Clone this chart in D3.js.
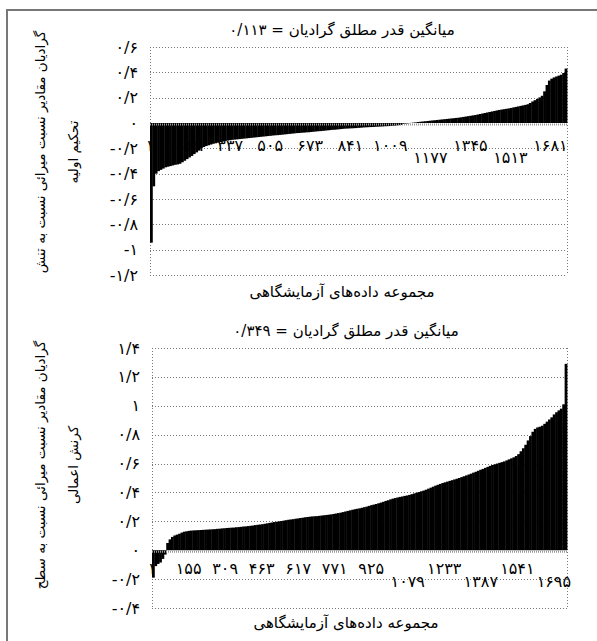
<!DOCTYPE html>
<html>
<head>
<meta charset="utf-8">
<script src="https://cdn.jsdelivr.net/npm/d3@7"></script>
<style>
  body { margin: 0; background: #fff; }
  text { font-family: "DejaVu Sans", sans-serif; fill: #000; }
</style>
</head>
<body>
<div id="chart"></div>
<script>
// data: sorted gradients, each bar = 10 consecutive samples
var count = 1750,
    groupSize = 10;

var means = [0.113, 0.349];

var values1 = [
  -0.945, -0.5, -0.40, -0.38, -0.37, -0.36, -0.35, -0.345, -0.34, -0.335,
  -0.33, -0.327, -0.322, -0.31, -0.298, -0.285, -0.272, -0.26, -0.245, -0.232,
  -0.218, -0.2, -0.19, -0.182, -0.176, -0.17, -0.164, -0.16, -0.155, -0.15,
  -0.146, -0.142, -0.139, -0.136, -0.133, -0.131, -0.129, -0.127, -0.125, -0.123,
  -0.121, -0.119, -0.117, -0.115, -0.113, -0.111, -0.109, -0.107, -0.105, -0.103,
  -0.101, -0.099, -0.097, -0.096, -0.094, -0.092, -0.09, -0.088, -0.086, -0.084,
  -0.082, -0.08, -0.079, -0.077, -0.076, -0.074, -0.073, -0.071, -0.069, -0.067,
  -0.065, -0.064, -0.062, -0.06, -0.058, -0.056, -0.054, -0.053, -0.051, -0.049,
  -0.047, -0.045, -0.044, -0.043, -0.042, -0.041, -0.04, -0.038, -0.037, -0.035,
  -0.034, -0.033, -0.032, -0.031, -0.03, -0.029, -0.028, -0.027, -0.026, -0.025,
  -0.024, -0.022, -0.021, -0.019, -0.017, -0.015, -0.006, -0.004, -0.002, 0.001,
  0.003, 0.005, 0.008, 0.01, 0.012, 0.014, 0.016, 0.018, 0.02, 0.022,
  0.024, 0.026, 0.028, 0.03, 0.032, 0.034, 0.036, 0.038, 0.04, 0.042,
  0.045, 0.048, 0.051, 0.054, 0.057, 0.06, 0.063, 0.067, 0.071, 0.075,
  0.079, 0.083, 0.087, 0.091, 0.095, 0.099, 0.103, 0.106, 0.109, 0.112,
  0.115, 0.119, 0.123, 0.127, 0.131, 0.135, 0.139, 0.143, 0.148, 0.158,
  0.17, 0.18, 0.19, 0.202, 0.215, 0.25, 0.3, 0.335, 0.35, 0.36,
  0.367, 0.374, 0.381, 0.395, 0.43
];

var values2 = [
  -0.19, -0.11, -0.095, -0.085, -0.06, -0.03, 0.05, 0.075, 0.092, 0.102,
  0.108, 0.114, 0.122, 0.128, 0.131, 0.134, 0.136, 0.137, 0.138, 0.139,
  0.14, 0.141, 0.142, 0.143, 0.144, 0.145, 0.146, 0.148, 0.149, 0.151,
  0.152, 0.154, 0.155, 0.156, 0.157, 0.159, 0.16, 0.162, 0.164, 0.165,
  0.167, 0.169, 0.171, 0.174, 0.176, 0.178, 0.18, 0.183, 0.186, 0.189,
  0.192, 0.195, 0.197, 0.2, 0.202, 0.205, 0.208, 0.211, 0.213, 0.215,
  0.218, 0.22, 0.223, 0.225, 0.228, 0.23, 0.232, 0.234, 0.235, 0.236,
  0.238, 0.24, 0.242, 0.244, 0.246, 0.248, 0.251, 0.254, 0.257, 0.26,
  0.264, 0.268, 0.272, 0.276, 0.28, 0.284, 0.287, 0.29, 0.294, 0.298,
  0.302, 0.307, 0.312, 0.316, 0.32, 0.325, 0.33, 0.335, 0.341, 0.346,
  0.352, 0.357, 0.361, 0.365, 0.369, 0.372, 0.376, 0.379, 0.383, 0.388,
  0.393, 0.398, 0.403, 0.408, 0.413, 0.419, 0.426, 0.433, 0.44, 0.447,
  0.453, 0.459, 0.465, 0.47, 0.475, 0.48, 0.485, 0.49, 0.495, 0.5,
  0.506, 0.512, 0.518, 0.524, 0.53, 0.537, 0.543, 0.55, 0.557, 0.563,
  0.57, 0.577, 0.584, 0.59, 0.595, 0.6, 0.605, 0.61, 0.615, 0.622,
  0.629, 0.636, 0.643, 0.652, 0.665, 0.685, 0.706, 0.73, 0.76, 0.79,
  0.82, 0.84, 0.85, 0.855, 0.862, 0.875, 0.89, 0.905, 0.92, 0.94,
  0.955, 0.968, 0.98, 1.01, 1.29
];

var yTicks1 = [0.6, 0.4, 0.2, 0, -0.2, -0.4, -0.6, -0.8, -1, -1.2],
    yTicks2 = [1.4, 1.2, 1, 0.8, 0.6, 0.4, 0.2, 0, -0.2, -0.4];

var xTicks1 = [1, 169, 337, 505, 673, 841, 1009, 1177, 1345, 1513, 1681],
    xTicks2 = [1, 155, 309, 463, 617, 771, 925, 1079, 1233, 1387, 1541, 1695];

var xTitle = "مجموعه داده‌های آزمایشگاهی",
    titlePrefix = "میانگین قدر مطلق گرادیان = ",
    yTitles1 = ["گرادیان مقادیر نسبت میرائی نسبت به تنش", "تحکیم اولیه"],
    yTitles2 = ["گرادیان مقادیر نسبت میرائی نسبت به سطح", "کرنش اعمالی"];

var width = 597, height = 641;

var svg = d3.select("#chart").append("svg")
    .attr("width", width)
    .attr("height", height);

svg.append("rect").attr("width", width).attr("height", height).attr("fill", "#fff");

// outer frame (only top and left edges are visible)
svg.append("path")
    .attr("d", "M7,641V10H597")
    .attr("fill", "none")
    .attr("stroke", "#777")
    .attr("stroke-width", 2);

// persian digits, slash as decimal mark like the original
function fa(s) {
    return String(s).replace(/[0-9]/g, function(d) {return "۰۱۲۳۴۵۶۷۸۹"[+d]}).replace(/\./g, "/");
}

function drawChart(opt) {
    var g = svg.append("g");
    var left = opt.left, right = opt.right;

    var y = d3.scaleLinear()
        .domain(d3.extent(opt.yTicks))
        .range([opt.bottom, opt.top]);

    var x = d3.scaleLinear()
        .domain([0, count])
        .range([left, right]);

    var band = d3.scaleBand()
        .domain(d3.range(opt.values.length))
        .range([left, right])
        .padding(0);

    // gridlines
    g.append("g").selectAll("line")
        .data(opt.yTicks.filter(function(d) {return d != 0}))
      .enter().append("line")
        .attr("x1", left).attr("x2", right)
        .attr("y1", function(d) {return Math.round(y(d)) + 0.5})
        .attr("y2", function(d) {return Math.round(y(d)) + 0.5})
        .attr("stroke", "#777")
        .attr("stroke-dasharray", "1,2");

    // side borders
    g.append("g").selectAll("line")
        .data([left, right])
      .enter().append("line")
        .attr("x1", function(d) {return Math.round(d) + 0.5})
        .attr("x2", function(d) {return Math.round(d) + 0.5})
        .attr("y1", opt.top).attr("y2", opt.bottom)
        .attr("stroke", "#777")
        .attr("stroke-dasharray", "1,2");

    // bars
    g.append("g").selectAll("rect")
        .data(opt.values)
      .enter().append("rect")
        .attr("x", function(d, i) {return band(i)})
        .attr("width", band.bandwidth() + 0.4)
        .attr("y", function(d) {return y(Math.max(0, d))})
        .attr("height", function(d) {return Math.abs(y(d) - y(0))})
        .attr("fill", "#000");

    // zero axis
    g.append("line")
        .attr("x1", left).attr("x2", right)
        .attr("y1", y(0) + 1.5).attr("y2", y(0) + 1.5)
        .attr("stroke", "#999")
        .attr("stroke-width", 2)
        .attr("stroke-dasharray", "1,1");

    // y tick labels
    g.append("g").selectAll("text")
        .data(opt.yTicks)
      .enter().append("text")
        .attr("x", left - 12)
        .attr("y", function(d) {return y(d)})
        .attr("dy", "0.35em")
        .attr("text-anchor", "end")
        .style("font-size", "16px")
        .text(function(d) {return fa(+d.toFixed(1))});

    // x tick labels, two staggered rows
    g.append("g").selectAll("text")
        .data(opt.xTicks)
      .enter().append("text")
        .attr("x", function(d) {return x(d - 0.5) + opt.labelShift})
        .attr("y", function(d) {return y(0) + (opt.lowRow.indexOf(d) > -1 ? opt.lowOffset : opt.highOffset)})
        .attr("dy", "0.35em")
        .attr("text-anchor", "middle")
        .style("font-size", "16px")
        .text(function(d) {return fa(d)});

    // title
    g.append("text")
        .attr("x", opt.titleX)
        .attr("y", opt.titleY)
        .attr("dy", "0.35em")
        .attr("text-anchor", "middle")
        .attr("direction", "rtl")
        .style("font-size", "15px")
        .text(titlePrefix + fa(means[opt.index].toFixed(3)));

    // x axis title
    g.append("text")
        .attr("x", opt.titleX)
        .attr("y", opt.xTitleY)
        .attr("dy", "0.35em")
        .attr("text-anchor", "middle")
        .attr("direction", "rtl")
        .style("font-size", "15px")
        .text(xTitle);

    // y axis title, two lines rotated
    g.append("g").selectAll("text")
        .data(opt.yTitles)
      .enter().append("text")
        .attr("transform", function(d, i) {return "translate(" + (40 + i * 33) + "," + opt.yTitleY + ") rotate(-90)"})
        .attr("dy", "0.35em")
        .attr("text-anchor", "middle")
        .attr("direction", "rtl")
        .style("font-size", "13.5px")
        .text(function(d) {return d});
}

drawChart({
    index: 0, values: values1, yTicks: yTicks1, xTicks: xTicks1, yTitles: yTitles1,
    left: 150, right: 567, top: 47, bottom: 275,
    lowRow: [1177, 1513], highOffset: 22, lowOffset: 34, labelShift: 0,
    titleX: 342, titleY: 30, xTitleY: 292, yTitleY: 152
});

drawChart({
    index: 1, values: values2, yTicks: yTicks2, xTicks: xTicks2, yTitles: yTitles2,
    left: 152, right: 567, top: 348, bottom: 608,
    lowRow: [1079, 1387, 1695], highOffset: 18, lowOffset: 31, labelShift: 0,
    titleX: 346, titleY: 331, xTitleY: 623, yTitleY: 465
});
</script>
</body>
</html>
